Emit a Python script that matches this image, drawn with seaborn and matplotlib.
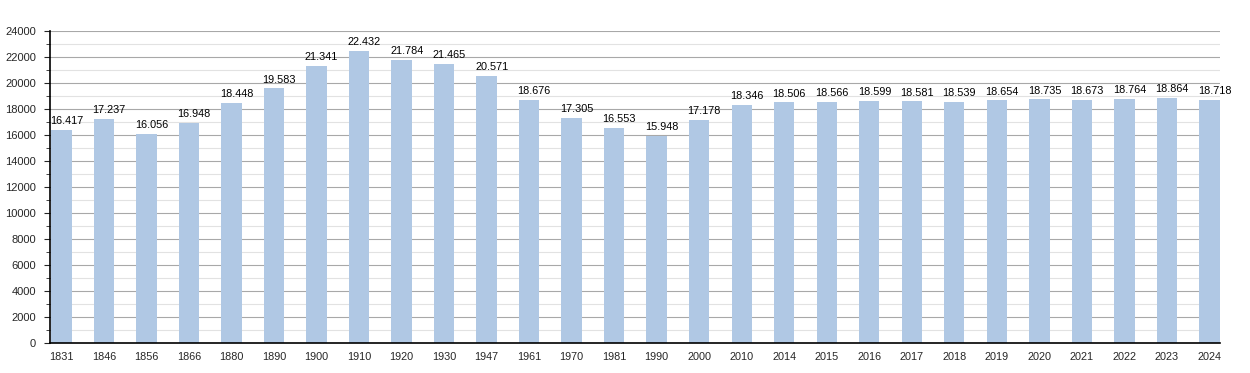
import matplotlib
matplotlib.use("Agg")
import matplotlib.pyplot as plt
import seaborn as sns
import pandas as pd
from matplotlib.ticker import MultipleLocator

years = ["1831", "1846", "1856", "1866", "1880", "1890", "1900", "1910", "1920", "1930",
         "1947", "1961", "1970", "1981", "1990", "2000", "2010", "2014", "2015", "2016",
         "2017", "2018", "2019", "2020", "2021", "2022", "2023", "2024"]
population = [16417, 17237, 16056, 16948, 18448, 19583, 21341, 22432, 21784, 21465,
              20571, 18676, 17305, 16553, 15948, 17178, 18346, 18506, 18566, 18599,
              18581, 18539, 18654, 18735, 18673, 18764, 18864, 18718]

df = pd.DataFrame({"year": years, "population": population})

sns.set_style("white")
plt.rcParams["font.family"] = ["Liberation Sans", "DejaVu Sans"]

fig = plt.figure(figsize=(12.5, 3.73), dpi=100)
ax = fig.add_axes([0.04, 0.0804, 0.936, 0.8365])

sns.barplot(data=df, x="year", y="population", color="#b0c8e4", width=0.48,
            saturation=1, linewidth=0, ax=ax, zorder=3)

ax.set_ylim(0, 24000)
ax.set_xlim(-0.27, len(years) - 0.75)
ax.yaxis.set_major_locator(MultipleLocator(2000))
ax.yaxis.set_minor_locator(MultipleLocator(1000))
ax.grid(which="major", axis="y", color="#a8a8a8", linewidth=0.8, zorder=0)
ax.grid(which="minor", axis="y", color="#e2e2e2", linewidth=0.8, zorder=0)
ax.set_axisbelow(True)

for s in ["top", "right"]:
    ax.spines[s].set_visible(False)
ax.spines["left"].set_color("black")
ax.spines["bottom"].set_color("black")
ax.spines["left"].set_linewidth(1.2)
ax.spines["bottom"].set_linewidth(1.2)
ax.spines["bottom"].set_zorder(5)

ax.tick_params(axis="y", which="major", left=True, length=4, width=0.8, labelsize=8, pad=6)
ax.tick_params(axis="y", which="minor", left=True, length=3, width=0.6)
ax.tick_params(axis="x", bottom=False, labelsize=7.8, pad=3)
ax.set_xlabel("")
ax.set_ylabel("")

# value labels sit slightly right of the bar centre, like the original
for i, v in enumerate(population):
    ax.text(i + 0.12, v + 300, f"{v:,}".replace(",", "."), ha="center", va="bottom",
            fontsize=7.8, color="black")

fig.savefig("out.png", dpi=100)
